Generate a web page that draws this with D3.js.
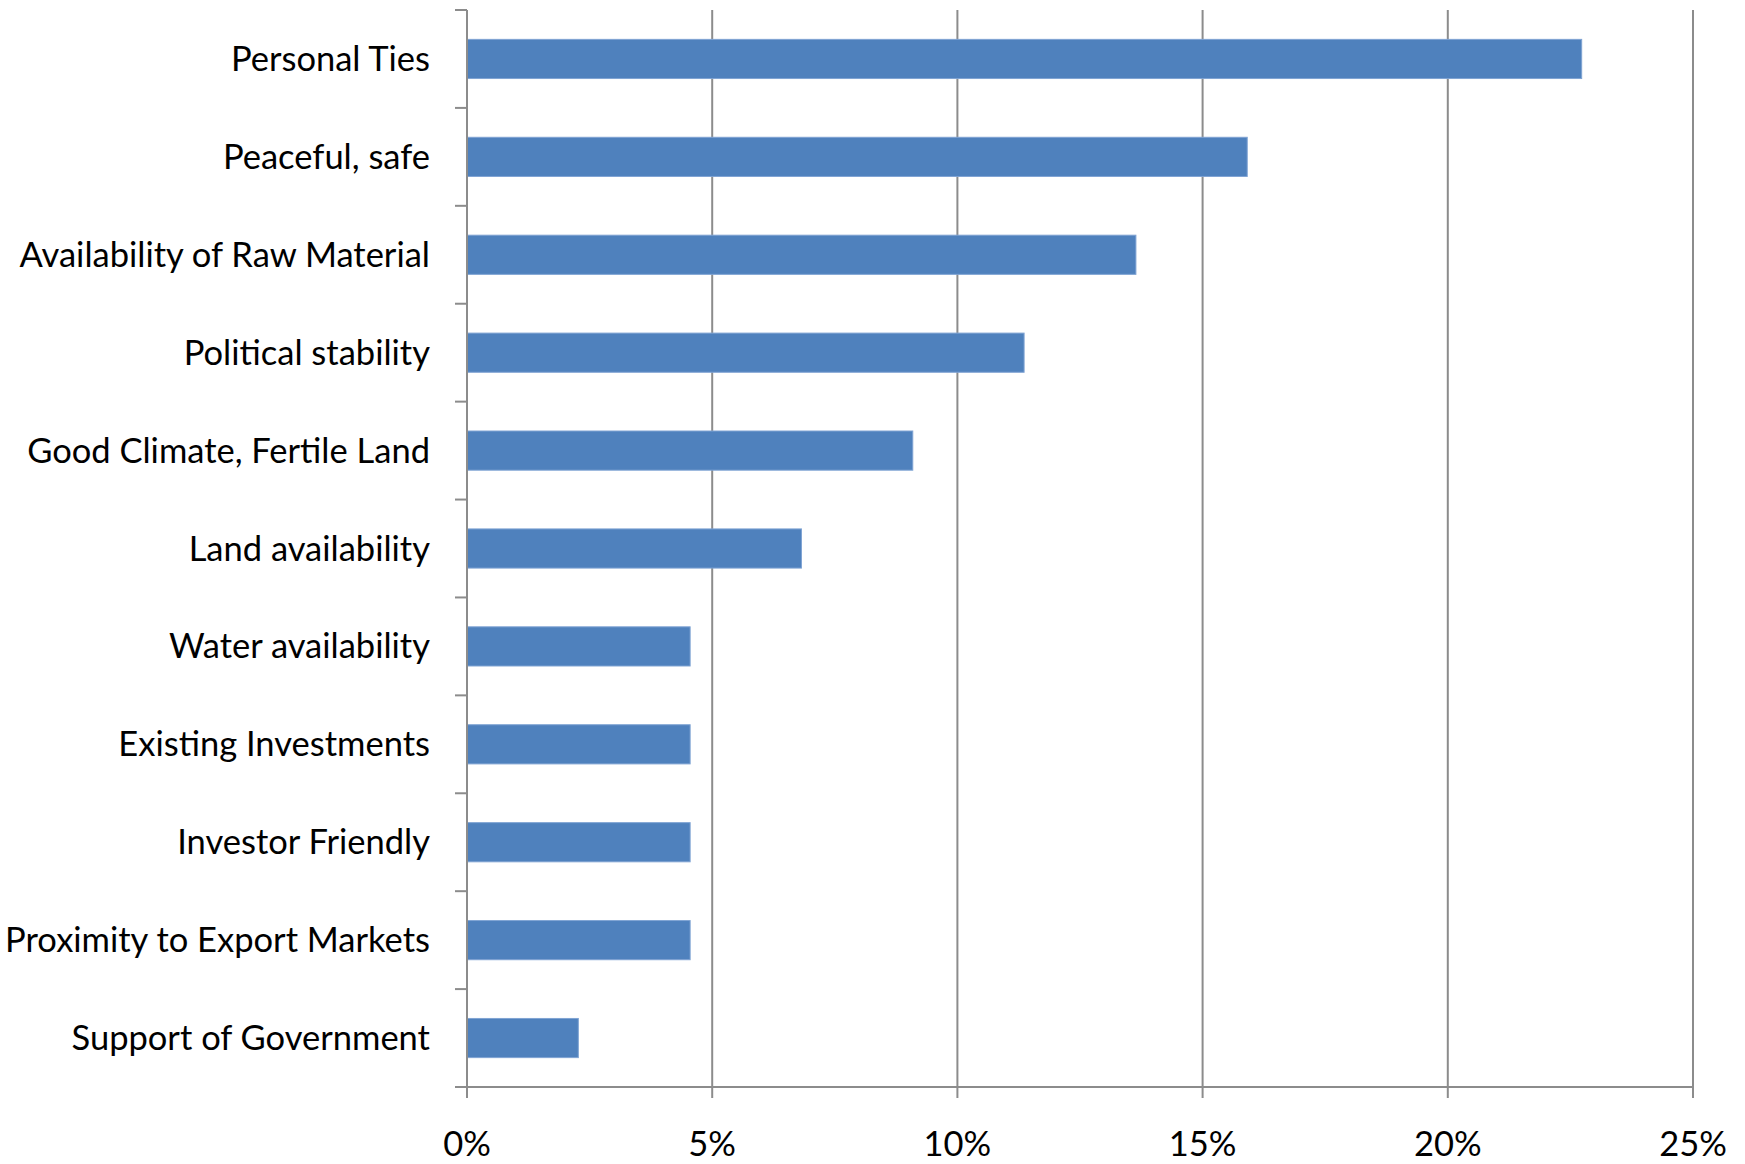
<!DOCTYPE html>
<html>
<head>
<meta charset="utf-8">
<script src="https://cdn.jsdelivr.net/npm/d3@7"></script>
<style>
  html, body { margin: 0; padding: 0; background: #fff; }
  svg { display: block; }
  text { font-family: Lato, "Open Sans", sans-serif; fill: #000; }
</style>
</head>
<body>
<svg id="chart" width="1745" height="1164"></svg>
<script>
// Location factors and share of responses citing each
const categories = [
  "Personal Ties",
  "Peaceful, safe",
  "Availability of Raw Material",
  "Political stability",
  "Good Climate, Fertile Land",
  "Land availability",
  "Water availability",
  "Existing Investments",
  "Investor Friendly",
  "Proximity to Export Markets",
  "Support of Government"
];
const shares = [0.2273, 0.1591, 0.1364, 0.1136, 0.0909, 0.0682, 0.0455, 0.0455, 0.0455, 0.0455, 0.0227];
const xTicks = [0, 0.05, 0.10, 0.15, 0.20, 0.25];

const margin = { top: 10, left: 467, right: 52, bottom: 77 };
const width = 1745, height = 1164;
const svg = d3.select("#chart");

const x = d3.scaleLinear().domain([0, 0.25]).range([margin.left, width - margin.right]);
const y = d3.scaleBand().domain(categories)
  .range([margin.top, height - margin.bottom])
  .paddingInner(0.6).paddingOuter(0.3);

const gridColor = "#8c8c8c";
const fontSize = 34.5;

// vertical gridlines
svg.append("g").selectAll("line")
  .data(xTicks.slice(1))
  .join("line")
  .attr("x1", d => x(d)).attr("x2", d => x(d))
  .attr("y1", margin.top).attr("y2", height - margin.bottom)
  .attr("stroke", gridColor).attr("stroke-width", 2);

// bars
svg.append("g").selectAll("rect")
  .data(categories)
  .join("rect")
  .attr("x", x(0))
  .attr("y", d => y(d))
  .attr("width", (d, i) => x(shares[i]) - x(0))
  .attr("height", y.bandwidth())
  .attr("fill", "#4f81bd")
  .attr("stroke", "#7fa3d3")
  .attr("stroke-width", 1);

// category axis: ticks at band boundaries
const plotBottom = height - margin.bottom;
const boundaries = d3.range(categories.length + 1).map(i => margin.top + i * (plotBottom - margin.top) / categories.length);
const yAxisG = svg.append("g");
yAxisG.append("line")
  .attr("x1", x(0)).attr("x2", x(0))
  .attr("y1", margin.top).attr("y2", plotBottom + 11)
  .attr("stroke", gridColor).attr("stroke-width", 2);
yAxisG.selectAll("line.tick")
  .data(boundaries)
  .join("line")
  .attr("class", "tick")
  .attr("x1", x(0) - 12).attr("x2", x(0))
  .attr("y1", d => d).attr("y2", d => d)
  .attr("stroke", gridColor).attr("stroke-width", 2);
yAxisG.selectAll("text")
  .data(categories)
  .join("text")
  .attr("x", 430)
  .attr("y", d => y(d) + y.bandwidth() / 2 + 12)
  .attr("text-anchor", "end")
  .attr("font-size", fontSize)
  .text(d => d);

// value axis along the bottom
const xAxisG = svg.append("g");
xAxisG.append("line")
  .attr("x1", x(0) - 12).attr("x2", x(0.25))
  .attr("y1", plotBottom).attr("y2", plotBottom)
  .attr("stroke", gridColor).attr("stroke-width", 2);
xAxisG.selectAll("line.tick")
  .data(xTicks)
  .join("line")
  .attr("class", "tick")
  .attr("x1", d => x(d)).attr("x2", d => x(d))
  .attr("y1", plotBottom).attr("y2", plotBottom + 11)
  .attr("stroke", gridColor).attr("stroke-width", 2);
xAxisG.selectAll("text")
  .data(xTicks)
  .join("text")
  .attr("x", d => x(d))
  .attr("y", 1156)
  .attr("text-anchor", "middle")
  .attr("font-size", fontSize)
  .text(d3.format(".0%"));
</script>
</body>
</html>
